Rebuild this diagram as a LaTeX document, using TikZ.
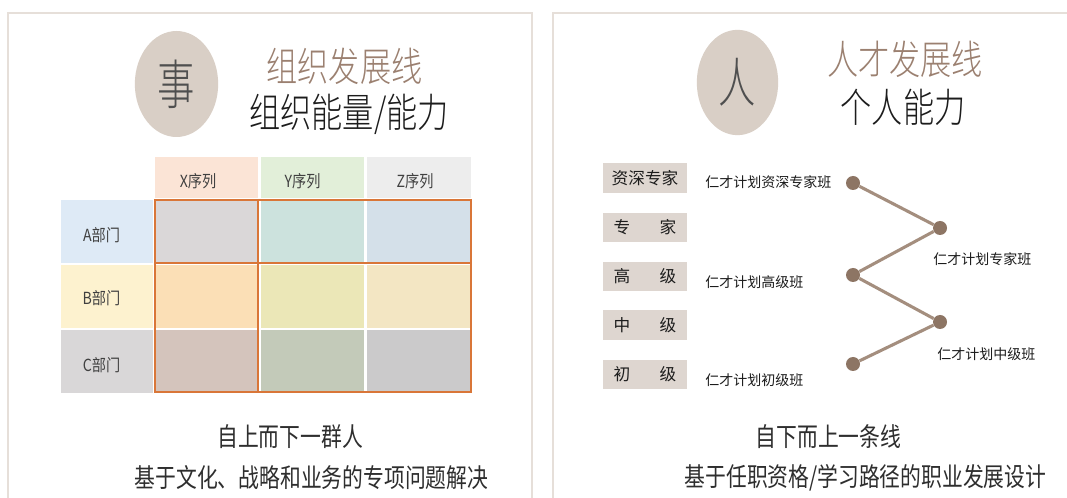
\documentclass[tikz,border=0pt]{standalone}
\usepackage{fontspec}
\usepackage{graphicx}
\IfFontExistsTF{Noto Sans CJK SC Light}{\setmainfont{Noto Sans CJK SC Light}}{\setmainfont{Noto Sans CJK SC}}
\newfontfamily\regf{Noto Sans CJK SC}
\usetikzlibrary{shapes.geometric}
\definecolor{panelc}{HTML}{E6DFD9}
\definecolor{ovalc}{HTML}{D9CFC6}
\definecolor{ovaltext}{HTML}{4F4F4F}
\definecolor{titlebrown}{HTML}{9B8070}
\definecolor{inkc}{HTML}{1C1C1C}
\definecolor{footc}{HTML}{2E2E2E}
\definecolor{lblc}{HTML}{404040}
\definecolor{hdrX}{HTML}{FBE4D6}
\definecolor{hdrY}{HTML}{E2EFD9}
\definecolor{hdrZ}{HTML}{EDEDED}
\definecolor{rowA}{HTML}{DEEAF6}
\definecolor{rowB}{HTML}{FDF2CF}
\definecolor{rowC}{HTML}{D9D7D8}
\definecolor{cAX}{HTML}{DAD7D8}
\definecolor{cAY}{HTML}{CCE2DD}
\definecolor{cAZ}{HTML}{D4E0E9}
\definecolor{cBX}{HTML}{FBDFB6}
\definecolor{cBY}{HTML}{EBE7B7}
\definecolor{cBZ}{HTML}{F3E6C3}
\definecolor{cCX}{HTML}{D4C4BC}
\definecolor{cCY}{HTML}{C3CAB9}
\definecolor{cCZ}{HTML}{CBCACB}
\definecolor{gridc}{HTML}{D97638}
\definecolor{levelc}{HTML}{DED6D0}
\definecolor{dotc}{HTML}{8D7564}
\definecolor{linec}{HTML}{A48E7E}
\newcommand{\fpx}[1]{\fontsize{#1}{#1}\selectfont}
\newcommand{\nsq}[2]{\scalebox{#1}[1]{#2}}
\begin{document}
\begin{tikzpicture}[x=0.75pt,y=-0.75pt,
  panel/.style={draw=panelc, line width=1.5pt},
  oval/.style={ellipse, fill=ovalc, inner sep=0pt, text=ovaltext, font=\fpx{40pt}},
  title/.style={inner sep=0pt, text=titlebrown, font=\fpx{30pt}},
  subtitle/.style={inner sep=0pt, text=inkc, font=\fpx{30pt}},
  hdr/.style={inner sep=0pt, text=lblc, font=\regf\fpx{12.5pt}},
  grid/.style={draw=gridc, line width=1.5pt},
  lvl/.style={fill=levelc, minimum width=63pt, minimum height=22pt, inner sep=0pt, text=inkc, font=\regf\fpx{12.5pt}},
  plan/.style={inner sep=0pt, text=inkc, font=\regf\fpx{10.5pt}},
  dot/.style={circle, fill=dotc, minimum size=10.5pt, inner sep=0pt},
  link/.style={draw=linec, line width=2.3pt},
  foot/.style={inner sep=0pt, text=footc, font=\regf\fpx{19.5pt}}]
\useasboundingbox (0,0) rectangle (1067,498);
\clip (0,0) rectangle (1067,498);
\fill[white] (0,0) rectangle (1067,498);
% panels
\draw[panel] (7.5,520) -- (7.5,13.5) -- (532,13.5) -- (532,520);
\draw[panel] (553,520) -- (553,13.5) -- (1080,13.5);
% left header
\node[oval, minimum width=62.5pt, minimum height=79.5pt] (shi) at (176.5,84) {\nsq{0.7}{事}};
\node[title] (t1) at (344.5,66) {\nsq{0.78}{组织发展线}};
\node[subtitle] (s1) at (349,114) {\nsq{0.78}{组织能量/能力}};
% table headers
\fill[hdrX] (155,157) rectangle (258,198);
\fill[hdrY] (261,157) rectangle (364,198);
\fill[hdrZ] (367,157) rectangle (471,198);
\node[hdr] (hx) at (198,181) {\nsq{0.85}{X序列}};
\node[hdr] (hy) at (302.5,181) {\nsq{0.85}{Y序列}};
\node[hdr] (hz) at (415,181) {\nsq{0.85}{Z序列}};
% row labels
\fill[rowA] (61,200) rectangle (153,263);
\fill[rowB] (61,265) rectangle (153,328);
\fill[rowC] (61,330) rectangle (153,393);
\node[hdr] (ra) at (101.5,235) {\nsq{0.85}{A部门}};
\node[hdr] (rb) at (101.5,298.5) {\nsq{0.85}{B部门}};
\node[hdr] (rc) at (101.5,365) {\nsq{0.85}{C部门}};
% cells
\fill[cAX] (155,200) rectangle (257,263);
\fill[cAY] (261,200) rectangle (364,263);
\fill[cAZ] (367,200) rectangle (471,263);
\fill[cBX] (155,265) rectangle (257,328);
\fill[cBY] (261,265) rectangle (364,328);
\fill[cBZ] (367,265) rectangle (471,328);
\fill[cCX] (155,330) rectangle (257,393);
\fill[cCY] (261,330) rectangle (364,393);
\fill[cCZ] (367,330) rectangle (471,393);
% grid lines
\draw[grid] (155,200) rectangle (471,392);
\draw[grid] (257.5,200) -- (257.5,392);
\draw[grid] (155,263.5) -- (471,263.5);
% left footer
\node[foot] (f1) at (290,437) {\nsq{0.8}{自上而下一群人}};
\node[foot] (f2) at (311.5,478) {\nsq{0.8}{基于文化、战略和业务的专项问题解决}};
% right header
\node[oval, minimum width=61pt, minimum height=79pt] (ren) at (737.5,82.5) {\nsq{0.7}{人}};
\node[title] (t2) at (905,59) {\nsq{0.78}{人才发展线}};
\node[subtitle] (s2) at (903,107) {\nsq{0.78}{个人能力}};
% level boxes
\node[lvl] (l1) at (645,178) {资深专家};
\node[lvl] (l2) at (645,227.5) {专\hspace{22pt}家};
\node[lvl] (l3) at (645,276.5) {高\hspace{22pt}级};
\node[lvl] (l4) at (645,325) {中\hspace{22pt}级};
\node[lvl] (l5) at (645,374.5) {初\hspace{22pt}级};
% plan labels
\node[plan, anchor=west] (p1) at (705,182) {仁才计划资深专家班};
\node[plan, anchor=west] (p3) at (705,282) {仁才计划高级班};
\node[plan, anchor=west] (p5) at (705,380) {仁才计划初级班};
\node[plan, anchor=west] (p2) at (933,259.5) {仁才计划专家班};
\node[plan, anchor=west] (p4) at (937,354) {仁才计划中级班};
% zig-zag path
\node[dot] (d1) at (853,183) {};
\node[dot] (d2) at (940,228) {};
\node[dot] (d3) at (853,275) {};
\node[dot] (d4) at (940,322) {};
\node[dot] (d5) at (853,364) {};
\draw[link] (d1) -- (d2);
\draw[link] (d2) -- (d3);
\draw[link] (d3) -- (d4);
\draw[link] (d4) -- (d5);
% right footer
\node[foot] (f3) at (828.5,437) {\nsq{0.8}{自下而上一条线}};
\node[foot] (f4) at (865.5,478) {\nsq{0.8}{基于任职资格/学习路径的职业发展设计}};
\end{tikzpicture}
\end{document}
